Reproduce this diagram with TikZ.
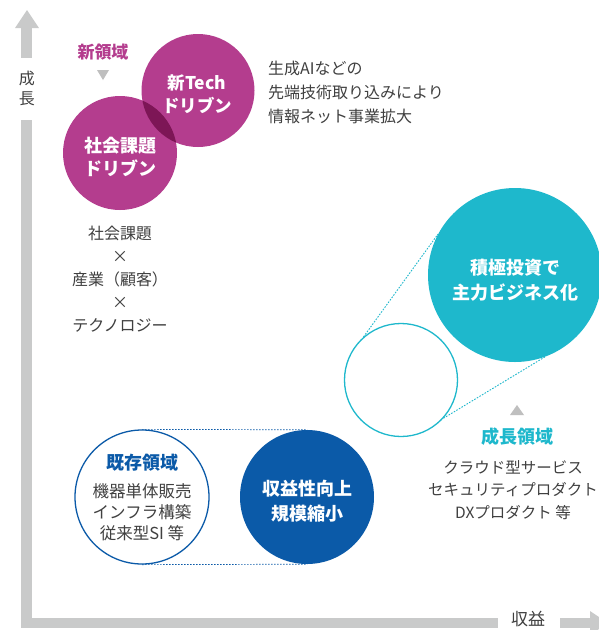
\documentclass[tikz,border=0pt]{standalone}
\usepackage{fontspec}
\setmainfont{Noto Sans CJK JP}
\definecolor{mag}{HTML}{B43D8E}
\definecolor{magdark}{HTML}{7D1656}
\definecolor{cyn}{HTML}{1EB8CC}
\definecolor{blu}{HTML}{0B5AA8}
\definecolor{axg}{HTML}{C9CACA}
\definecolor{txt}{HTML}{404040}
\definecolor{trig}{HTML}{BFBFBF}
\begin{document}
\begin{tikzpicture}[x=1pt,y=-1pt,
  circ/.style={circle,inner sep=0pt,minimum size=#1},
  bodytext/.style={text=txt,align=center,inner sep=0pt,font=\fontsize{16}{23}\selectfont},
  boldwhite/.style={text=white,align=center,inner sep=0pt,font=\bfseries\fontsize{18}{25}\selectfont},
  headtext/.style={align=center,inner sep=0pt,font=\bfseries\fontsize{18}{22}\selectfont},
  cyandash/.style={cyn,line width=0.9pt,dash pattern=on 1.6pt off 1.4pt},
  bluedash/.style={blu,line width=0.7pt,dash pattern=on 1.6pt off 1.4pt}]
\clip (0,0) rectangle (599,630);
\fill[white] (0,0) rectangle (599,630);
% axes
\fill[axg] (21,28) rectangle (32,58);
\fill[axg] (15,28) -- (27,10) -- (39,28) -- cycle;
\fill[axg] (21,120) rectangle (32,628);
\fill[axg] (21,618) rectangle (498,628);
\fill[axg] (560,618) rectangle (590,628);
\fill[axg] (590,611) -- (608,623) -- (590,635) -- cycle;
\node[bodytext,font=\fontsize{16}{20}\selectfont] (growth) at (27,88) {成\\長};
\node[bodytext,font=\fontsize{17}{20}\selectfont] (profit) at (528,619.5) {収益};
% new domain
\node[headtext,text=mag,font=\bfseries\fontsize{17}{20}\selectfont] (newdom) at (103,52) {新領域};
\fill[trig] (97,70) -- (109,70) -- (103,80) -- cycle;
\node[circ=114pt,fill=mag] (social) at (120,153) {};
\node[circ=113pt,fill=mag] (tech) at (198,90.5) {};
\begin{scope}
  \clip (198,90.5) circle (56.5pt);
  \fill[magdark] (120,153) circle (57pt);
\end{scope}
\node[boldwhite,font=\bfseries\fontsize{17.5}{23}\selectfont] (techtxt) at (197,94) {新Tech\\ドリブン};
\node[boldwhite,font=\bfseries\fontsize{18}{23}\selectfont] (socialtxt) at (120,157) {社会課題\\ドリブン};
\node[bodytext,align=left,anchor=west,font=\fontsize{16}{24}\selectfont] (aitext) at (268,92) {生成AIなどの\\先端技術取り込みにより\\情報ネット事業拡大};
\node[bodytext] (cross) at (120,279.5) {社会課題\\×\\産業（顧客）\\×\\テクノロジー};
% growth domain
\node[circ=174pt,fill=cyn] (big) at (515,275) {};
\node[boldwhite] (bigtxt) at (515,280) {積極投資で\\主力ビジネス化};
\node[circ=113pt,draw=cyn,line width=1.3pt,fill=white] (small) at (401,380) {};
\draw[cyandash] (small.131.5) -- (big.152.5);
\draw[cyandash] (small.-42.8) -- (big.-70.1);
\fill[trig] (510,415) -- (524,415) -- (517,405) -- cycle;
\node[headtext,text=cyn] (growdom) at (517,437) {成長領域};
\node[bodytext,font=\fontsize{15.5}{22.5}\selectfont] (growlist) at (513,490) {クラウド型サービス\\セキュリティプロダクト\\DXプロダクト 等};
% existing domain
\node[circ=134pt,draw=blu,line width=1.3pt] (kizon) at (142,497) {};
\node[circ=134pt,fill=blu] (shrink) at (307,497) {};
\draw[bluedash] (kizon.north) -- (shrink.north);
\draw[bluedash] (kizon.south) -- (shrink.south);
\node[headtext,text=blu] (kizontitle) at (142,463) {既存領域};
\node[bodytext,font=\fontsize{16.5}{21}\selectfont] (kizonlist) at (142,512) {機器単体販売\\インフラ構築\\従来型SI 等};
\node[boldwhite] (shrinktxt) at (307,501) {収益性向上\\規模縮小};
\end{tikzpicture}
\end{document}
